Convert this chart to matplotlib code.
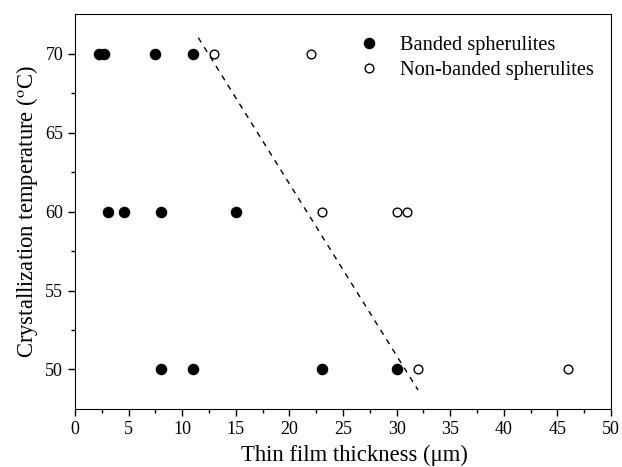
import matplotlib
matplotlib.use("Agg")
import numpy as np
from matplotlib import pyplot as plt

plt.rcParams['font.family'] = ['Liberation Serif', 'DejaVu Serif']
plt.rcParams['mathtext.fontset'] = 'stix'

# Datos
banded_x = [2.2, 2.7, 7.5, 11.0, 3.1, 4.6, 8.0, 15.0, 8.0, 11.0, 23.0, 30.0]
banded_t = [70, 70, 70, 70, 60, 60, 60, 60, 50, 50, 50, 50]
nonbanded_x = [13.0, 22.0, 23.0, 30.0, 31.0, 32.0, 46.0]
nonbanded_t = [70, 70, 60, 60, 60, 50, 50]
# linea de separacion (trazos)
limit_x = [11.5, 32.0]
limit_t = [71.0, 48.7]

fig = plt.figure(figsize=(6.22, 4.67), dpi=100)
ax = fig.add_axes([0.1206, 0.1242, 0.8617, 0.8458])

ax.plot(banded_x, banded_t, 'o', color='black', markersize=7.3,
        linestyle='none', label='Banded spherulites')
ax.plot(nonbanded_x, nonbanded_t, 'o', markerfacecolor='white',
        markeredgecolor='black', markeredgewidth=1.0, markersize=6.3,
        linestyle='none', label='Non-banded spherulites')
ax.plot(limit_x, limit_t, '--', color='black', linewidth=1.0, dashes=(4, 4))

ax.set_xlim(0, 50)
ax.set_ylim(47.5, 72.5)
ax.set_xticks(np.arange(0, 51, 5))
ax.set_xticks(np.arange(2.5, 50, 5), minor=True)
ax.set_yticks([50, 55, 60, 65, 70])
ax.set_yticks([52.5, 57.5, 62.5, 67.5], minor=True)
ax.tick_params(which='major', direction='out', length=5, width=1, labelsize=13)
ax.tick_params(which='minor', direction='out', length=3, width=1)

ax.set_xlabel('Thin film thickness (μm)', fontsize=16.3)
ax.xaxis.set_label_coords(0.522, -0.09)
ax.set_ylabel(r'Crystallization temperature ($^{\mathrm{o}}$C)', fontsize=16.3)

ax.legend(loc='upper right', frameon=False, fontsize=14.7, handletextpad=0.5,
          bbox_to_anchor=(0.99, 0.975), labelspacing=0.25, borderaxespad=0.2)

fig.savefig('out.png', dpi=100)
